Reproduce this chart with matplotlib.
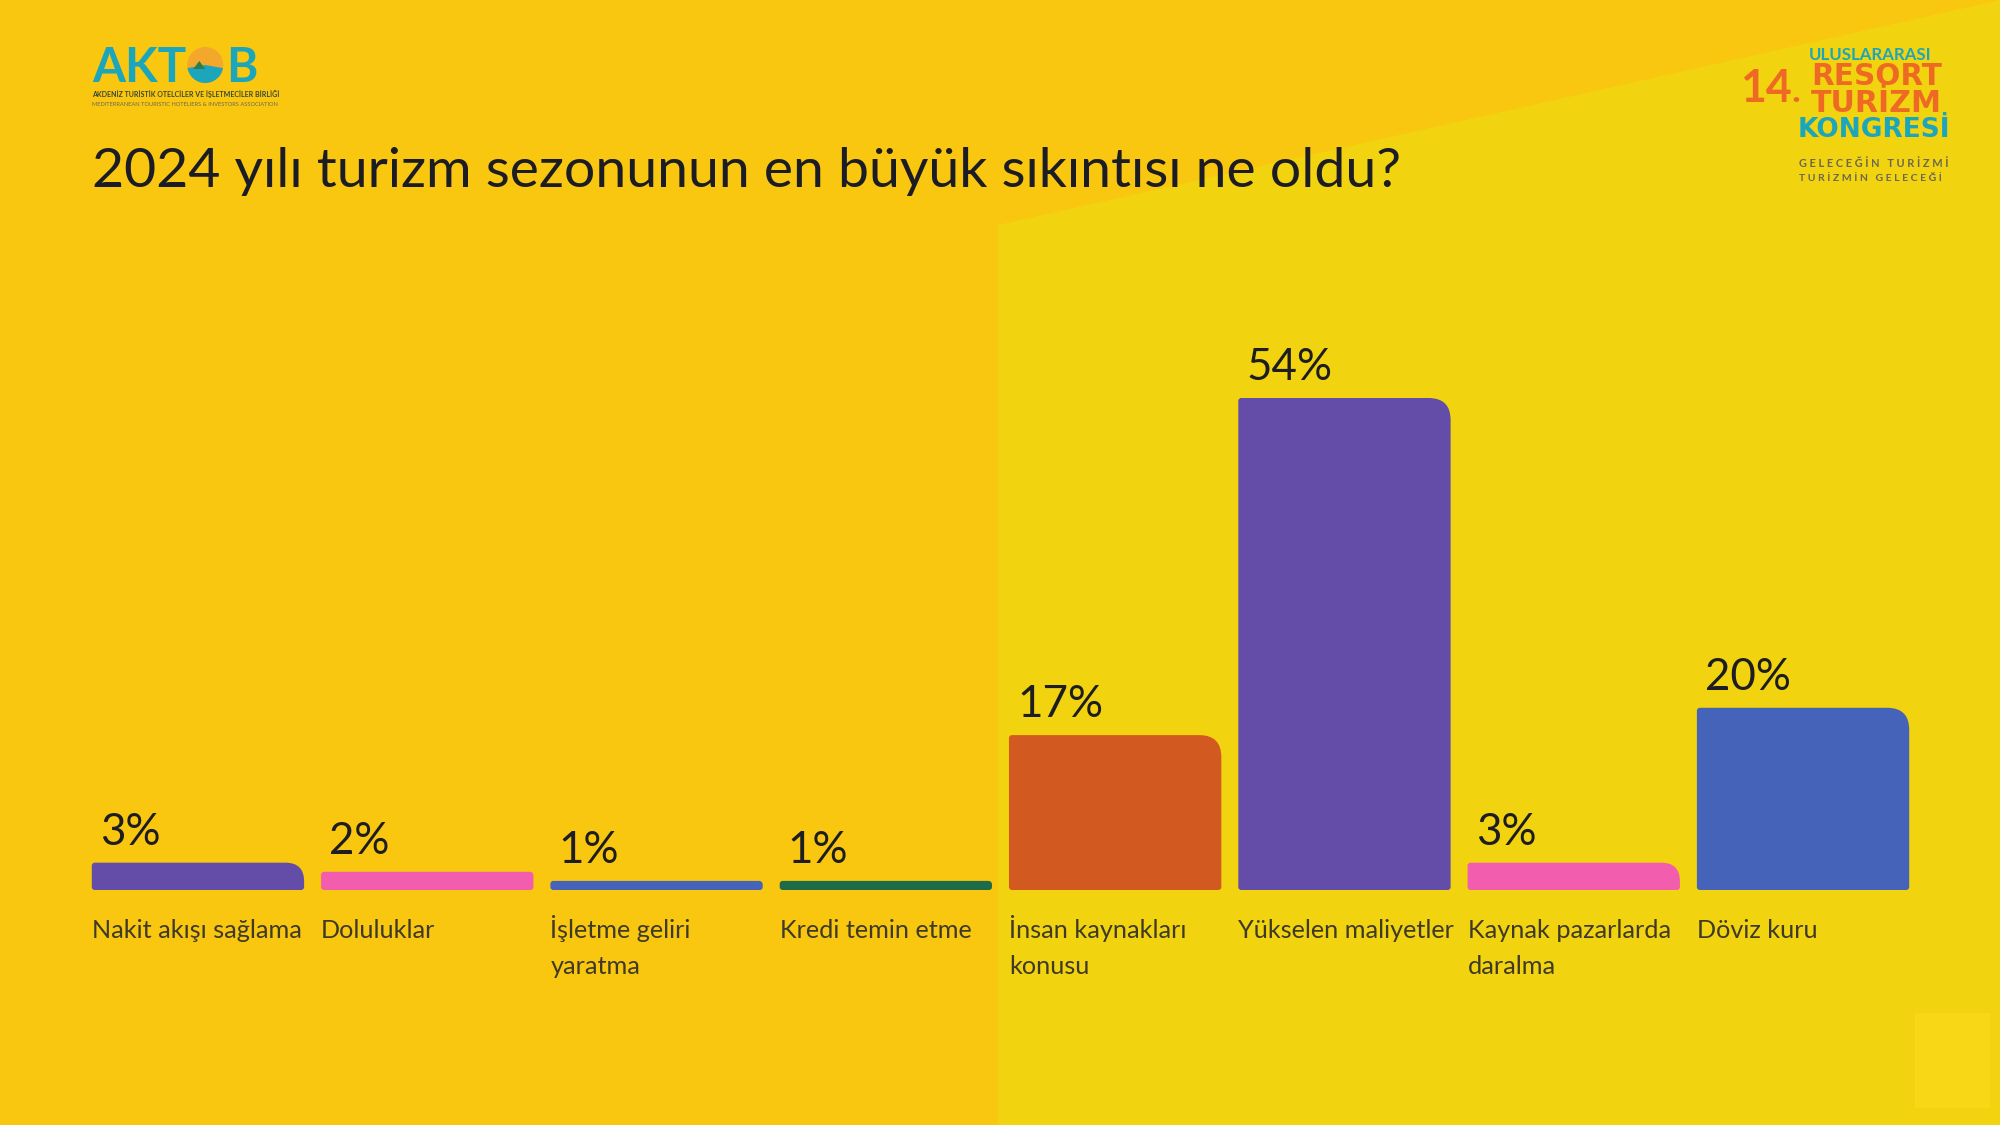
import matplotlib
matplotlib.use('Agg')
import matplotlib.pyplot as plt
from matplotlib.patches import Polygon, PathPatch, Circle, Wedge, Rectangle
from matplotlib.path import Path
from matplotlib.transforms import IdentityTransform

# ---------------- data ----------------
categories = ["Nakit akışı sağlama", "Doluluklar", "İşletme geliri\nyaratma",
              "Kredi temin etme", "İnsan kaynakları\nkonusu", "Yükselen maliyetler",
              "Kaynak pazarlarda\ndaralma", "Döviz kuru"]
values = [3, 2, 1, 1, 17, 54, 3, 20]
colors = ["#634DA8", "#F25DAE", "#4563B8", "#1E6B4A",
          "#D2591F", "#634DA8", "#F25DAE", "#4563B8"]
title = "2024 yılı turizm sezonunun en büyük sıkıntısı ne oldu?"

W, H = 2000, 1125
FONT = ['Lato', 'DejaVu Sans']
plt.rcParams['font.family'] = FONT

fig = plt.figure(figsize=(20, 11.25), dpi=100)
fig.patch.set_facecolor('#F9C70F')
renderer = fig.canvas.get_renderer()


def fp(x, y):
    return (x / W, 1 - y / H)


def px(x, y):
    return (x, H - y)


# background light region
fig.add_artist(Polygon([fp(998, 1125), fp(998, 225), fp(2000, 0), fp(2000, 1125)],
                       closed=True, transform=fig.transFigure, facecolor='#F2D30F',
                       edgecolor='none', zorder=0))
fig.add_artist(Rectangle(fp(1915, 1108), 75 / W, 95 / H, transform=fig.transFigure,
                         facecolor='#F8D816', edgecolor='none', zorder=0))


def fit(t, target, cap=None, cap_ratio=0.7165):
    t.set_fontsize(20)
    w = t.get_window_extent(renderer).width
    fs = 20 * target / w
    if cap is not None:
        fs = min(fs, cap / cap_ratio * 72 / 100)
    t.set_fontsize(fs)
    return fs


# ---------------- axes ----------------
unit_x = 229.3
left_px = 83.3
base_px = 890
unit_y = 9.111
ymax = 60
ax = fig.add_axes([left_px / W, (H - base_px) / H, 8 * unit_x / W, ymax * unit_y / H])
ax.set_facecolor('none')
ax.set_xlim(-0.5, 7.5)
ax.set_ylim(0, ymax)
for s in ax.spines.values():
    s.set_visible(False)
ax.set_xticks([])
ax.set_yticks([])

x = list(range(len(values)))
bars = ax.bar(x, values, width=0.926, color=colors)

sx = 1.0 / (ax.transData.transform((1, 0))[0] - ax.transData.transform((0, 0))[0])
sy = 1.0 / (ax.transData.transform((0, 1))[1] - ax.transData.transform((0, 0))[1])


def rounded(x0, y0, x1, y1, rbl, rbr, rtr, rtl):
    verts = [(x0 + rbl * sx, y0), (x1 - rbr * sx, y0),
             (x1, y0), (x1, y0 + rbr * sy),
             (x1, y1 - rtr * sy),
             (x1, y1), (x1 - rtr * sx, y1),
             (x0 + rtl * sx, y1),
             (x0, y1), (x0, y1 - rtl * sy),
             (x0, y0 + rbl * sy),
             (x0, y0), (x0 + rbl * sx, y0),
             (x0 + rbl * sx, y0)]
    codes = [Path.MOVETO, Path.LINETO,
             Path.CURVE3, Path.CURVE3,
             Path.LINETO,
             Path.CURVE3, Path.CURVE3,
             Path.LINETO,
             Path.CURVE3, Path.CURVE3,
             Path.LINETO,
             Path.CURVE3, Path.CURVE3,
             Path.CLOSEPOLY]
    return Path(verts, codes)


pct_texts = []
cat_texts = []
for rect, v, c, cat in zip(bars, values, colors, categories):
    x0 = rect.get_x()
    x1 = x0 + rect.get_width()
    h = rect.get_height()
    hpx = h / sy
    rtr = min(22, max(4, (hpx - 18) * 2), hpx)
    small = min(3, hpx / 2)
    path = rounded(x0, 0, x1, h, small, small, rtr, small)
    ax.add_patch(PathPatch(path, facecolor=c, edgecolor='none'))
    rect.set_visible(False)
    t = ax.annotate(f"{v}%", xy=(x0, h), xytext=(8, 18), textcoords='offset pixels',
                    ha='left', va='baseline', color='#1D1D22', fontsize=30)
    pct_texts.append(t)
    for k, line in enumerate(cat.split("\n")):
        t2 = ax.annotate(line, xy=(x0, 0), xytext=(0, -48 - 36 * k),
                         textcoords='offset pixels', ha='left', va='baseline',
                         color='#3F3A28', fontsize=16)
        cat_texts.append(t2)

fs = fit(pct_texts[5], 86)
for t in pct_texts:
    t.set_fontsize(fs)
fs = fit(cat_texts[0], 210)
for t in cat_texts:
    t.set_fontsize(fs)

# ---------------- title ----------------
tt = fig.text(*fp(92, 187), title, ha='left', va='baseline', color='#1C1C24',
              fontsize=36)
fit(tt, 1314)


# ---------------- logos ----------------
def ltext(s, x0, x1, yb, cap, color, weight='bold', family=FONT, cap_ratio=0.7165,
          ha='center'):
    xx = (x0 + x1) / 2 if ha == 'center' else x0
    t = fig.text(*fp(xx, yb), s, ha=ha, va='baseline', color=color,
                 fontweight=weight, family=family)
    fit(t, x1 - x0, cap, cap_ratio)
    return t


TEAL = '#1BA6BC'
ORANGE = '#EE6A24'
GREY = '#6B6750'
DV = ['DejaVu Sans']
# AKTOB
t_akt = ltext("AKT", 92, 207, 82, 34, TEAL, weight='bold', ha='left')
akt_right = t_akt.get_window_extent(renderer).x1
r = 18
cx = akt_right + r + 1
fig.add_artist(Circle((cx, H - 65), r, transform=IdentityTransform(),
                      facecolor='#F3A72B', edgecolor='none'))
fig.add_artist(Wedge((cx, H - 65), r, 190, 350, transform=IdentityTransform(),
                     facecolor=TEAL, edgecolor='none'))
fig.add_artist(Polygon([(cx - 12, H - 69), (cx - 6, H - 61), (cx, H - 69)],
                       closed=True, transform=IdentityTransform(),
                       facecolor='#2E7D4F', edgecolor='none'))
ltext("B", cx + r + 3, cx + r + 40, 82, 34, TEAL, weight='bold', ha='left')
ltext("AKDENİZ TURİSTİK OTELCİLER VE İŞLETMECİLER BİRLİĞİ", 92, 282, 97, 5,
      '#3A4636', weight='bold', ha='left')
ltext("MEDITERRANEAN TOURISTIC HOTELIERS & INVESTORS ASSOCIATION", 92, 282, 106, 5,
      '#6E6A52', weight='normal', ha='left')

# Resort Turizm Kongresi
ltext("ULUSLARARASI", 1798, 1942, 60, 12, TEAL, weight='bold')
ltext("14", 1740, 1792, 102, 36, ORANGE, weight='bold')
ltext(".", 1791, 1800, 102, 37, ORANGE, weight='bold')
ltext("RESORT", 1800, 1953, 85, 21.5, ORANGE, weight='bold', family=DV,
      cap_ratio=0.729)
ltext("TURİZM", 1803, 1950, 112, 22, ORANGE, weight='bold', family=DV,
      cap_ratio=0.729)
ltext("KONGRESİ", 1798, 1950, 137, 20.5, TEAL, weight='bold', family=DV,
      cap_ratio=0.729)
ltext("G E L E C E Ğ İ N   T U R İ Z M İ", 1799, 1949, 167, 9, GREY, weight='bold')
ltext("T U R İ Z M İ N   G E L E C E Ğ İ", 1799, 1942, 181, 9, GREY, weight='bold')

fig.savefig('out.png', dpi=100, facecolor=fig.get_facecolor())
